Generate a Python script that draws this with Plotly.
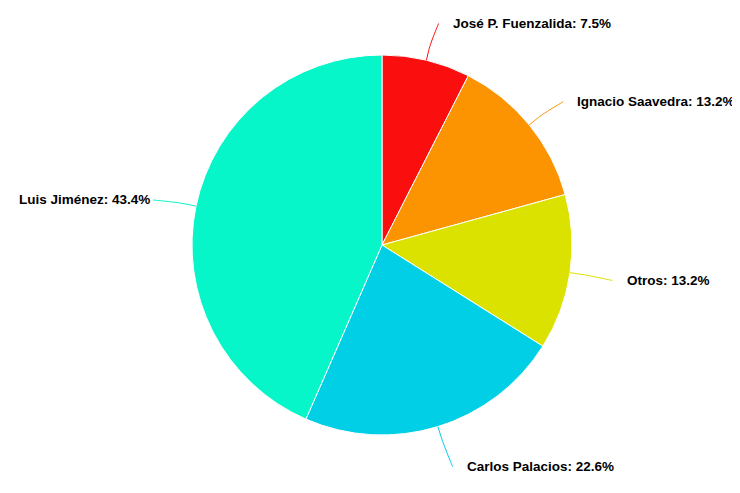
import math
import plotly.graph_objects as go

labels = ["José P. Fuenzalida", "Ignacio Saavedra", "Otros", "Carlos Palacios", "Luis Jiménez"]
values = [7.5, 13.2, 13.2, 22.6, 43.4]
colors = ["#fb0e0e", "#fc9300", "#dce200", "#00cfe6", "#06f5c9"]

W, H = 740, 493
OFF = 8  # page body margin compensation
cx, cy, R = 382 - OFF, 245 - OFF, 190
LD = 40  # label distance beyond radius

fig = go.Figure()
fig.add_trace(go.Pie(
    labels=labels, values=values, sort=False, direction="clockwise", rotation=0,
    marker=dict(colors=colors, line=dict(color="#ffffff", width=1)),
    textinfo="none", hoverinfo="label+percent", showlegend=False,
    domain=dict(x=[(cx - R) / W, (cx + R) / W], y=[(H - cy - R) / H, (H - cy + R) / H]),
))

total = sum(values)
cum = 0.0
shapes = []
annotations = []
for lab, v, col in zip(labels, values, colors):
    mid = (cum + v / 2) / total * 2 * math.pi
    cum += v
    s, c = math.sin(mid), math.cos(mid)
    ex, ey = cx + R * s, cy - R * c
    ly0 = cy - (R + LD) * c
    dx = math.sqrt(max((R + LD) ** 2 - (ly0 - cy) ** 2, 0))
    ly = ly0 + 2
    right = s >= 0
    lx = cx + dx if right else cx - dx
    kx = lx + 3 if right else lx - 4
    mx, my = cx + (R + 10) * s, cy - (R + 10) * c
    path = (f"M {kx:.1f},{ly:.1f} C {kx:.1f},{ly:.1f} {2*mx-ex:.1f},{2*my-ey:.1f} {mx:.1f},{my:.1f} "
            f"L {ex:.1f},{ey:.1f}")
    shapes.append(dict(type="path", path=path, xref="x", yref="y",
                       line=dict(color=col, width=1)))
    pct = f"{v / total * 100:.1f}%"
    annotations.append(dict(
        x=lx + (15 if right else -5), y=ly, xref="x", yref="y",
        text=f"<b>{lab}: {pct}</b>", showarrow=False,
        xanchor="left" if right else "right", yanchor="middle",
        font=dict(family="Liberation Sans, Arial, sans-serif", size=13.5, color="#000000"),
    ))

fig.update_layout(
    width=W, height=H,
    margin=dict(l=0, r=0, t=0, b=0, autoexpand=False),
    paper_bgcolor="#ffffff", plot_bgcolor="rgba(0,0,0,0)",
    xaxis=dict(range=[0, W], visible=False, fixedrange=True, domain=[0, 1]),
    yaxis=dict(range=[H, 0], visible=False, fixedrange=True, domain=[0, 1]),
    shapes=shapes, annotations=annotations,
)
fig.write_html("out.html")
